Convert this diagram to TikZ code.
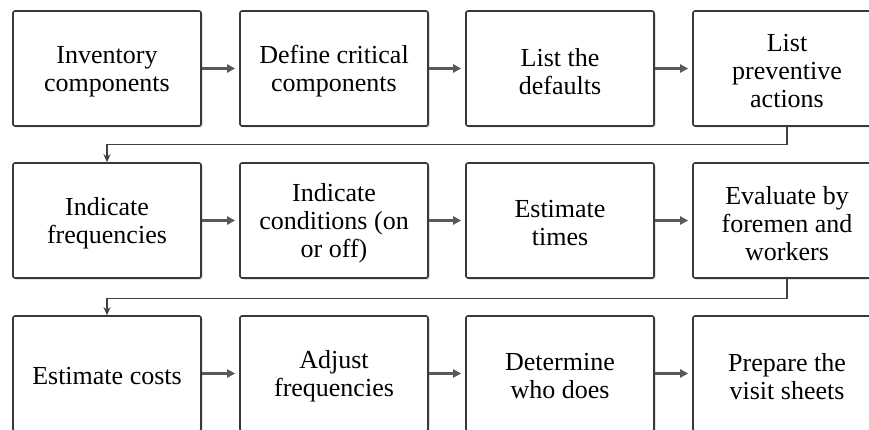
\documentclass[tikz,border=0pt]{standalone}
\usepackage{fontspec}
\setmainfont{Liberation Serif}
\usetikzlibrary{shadows,arrows.meta}
\newcommand\flowbox[3]{%
  \node[box] (#1) at (#2) {};
  \node[boxtext] at ([yshift=-3pt]#1.center) {#3};}
\begin{document}
\begin{tikzpicture}[x=1pt,y=-1pt,
  box/.style={draw=black!78, line width=1.6pt, rounded corners=2pt, fill=white,
    minimum width=188pt, minimum height=115pt, inner sep=0pt,
    drop shadow={shadow xshift=1.5pt, shadow yshift=-1.5pt, opacity=0.35}},
  boxtext/.style={align=center, inner sep=0pt,
    font=\fontsize{26}{28}\selectfont, text=black},
  flow/.style={draw=black!65, line width=2.2pt, shorten >=4pt,
    -{Triangle[length=8pt,width=8pt]}},
  link/.style={draw=black!75, line width=1.3pt, -{Stealth[length=8pt,width=7pt]}}]
\useasboundingbox (0,0) rectangle (869,430);
\clip (0,0) rectangle (869,430);
% row 1
\flowbox{n1}{107,68.5}{Inventory\\components}
\flowbox{n2}{334,68.5}{Define critical\\components}
\flowbox{n3}{560,68.5}{List the\\defaults}
\flowbox{n4}{787,68.5}{List\\preventive\\actions}
% row 2
\flowbox{n5}{107,220.5}{Indicate\\frequencies}
\flowbox{n6}{334,220.5}{Indicate\\conditions (on\\or off)}
\flowbox{n7}{560,220.5}{Estimate\\times}
\flowbox{n8}{787,220.5}{Evaluate by\\foremen and\\workers}
% row 3
\flowbox{n9}{107,373.5}{Estimate costs}
\flowbox{n10}{334,373.5}{Adjust\\frequencies}
\flowbox{n11}{560,373.5}{Determine\\who does}
\flowbox{n12}{787,373.5}{Prepare the\\visit sheets}
% arrows
\draw[flow] (n1) -- (n2);
\draw[flow] (n2) -- (n3);
\draw[flow] (n3) -- (n4);
\draw[flow] (n5) -- (n6);
\draw[flow] (n6) -- (n7);
\draw[flow] (n7) -- (n8);
\draw[flow] (n9) -- (n10);
\draw[flow] (n10) -- (n11);
\draw[flow] (n11) -- (n12);
\draw[link] (n4.south) -- ++(0,18) -| (n5.north);
\draw[link] (n8.south) -- ++(0,20) -| (n9.north);
\end{tikzpicture}
\end{document}
